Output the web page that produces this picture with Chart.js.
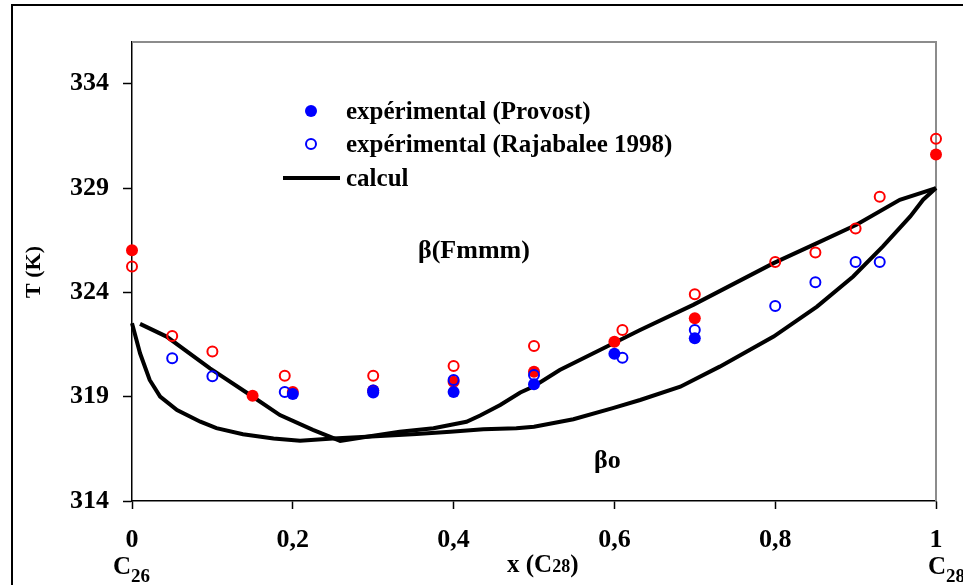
<!DOCTYPE html>
<html>
<head>
<meta charset="utf-8">
<script src="https://cdn.jsdelivr.net/npm/chart.js@4.4.1/dist/chart.umd.min.js"></script>
<style>
  html, body { margin: 0; padding: 0; background: #fff; }
  #wrap { width: 963px; height: 585px; position: relative; }
</style>
</head>
<body>
<div id="wrap"><canvas id="chartCanvas"></canvas></div>
<script>
// axes
const xTicks = [0, 0.2, 0.4, 0.6, 0.8, 1];
const xTickLabels = ["0", "0,2", "0,4", "0,6", "0,8", "1"];
const yTicks = [314, 319, 324, 329, 334];

// expérimental (Provost) - blue filled
const provostBlueX = [0.2, 0.3, 0.4, 0.5, 0.6, 0.7];
const provostBlueT = [319.13, 319.2, 319.22, 319.6, 321.06, 321.8];
// expérimental (Rajabalee 1998) - blue open
const rajaBlueX = [0.05, 0.1, 0.19, 0.3, 0.4, 0.5, 0.61, 0.7, 0.8, 0.85, 0.9, 0.93];
const rajaBlueT = [320.84, 319.98, 319.23, 319.3, 319.8, 320.04, 320.87, 322.2, 323.35, 324.49, 325.45, 325.45];
// red filled
const provostRedX = [0, 0.15, 0.2, 0.3, 0.4, 0.5, 0.6, 0.7, 1];
const provostRedT = [326.02, 319.04, 319.23, 319.3, 319.72, 320.2, 321.63, 322.76, 330.61];
// red open
const rajaRedX = [0, 0.05, 0.1, 0.19, 0.3, 0.4, 0.5, 0.61, 0.7, 0.8, 0.85, 0.9, 0.93, 1];
const rajaRedT = [325.24, 321.91, 321.16, 320.0, 320.0, 320.47, 321.43, 322.2, 323.91, 325.45, 325.91, 327.06, 328.58, 331.36];

// calcul - two branches of the loop
const calcAX = [0, 0.01, 0.022, 0.035, 0.056, 0.085, 0.105, 0.138, 0.176, 0.209, 0.25, 0.292, 0.354, 0.396, 0.437, 0.478, 0.5, 0.549, 0.598, 0.632, 0.682, 0.731, 0.798, 0.852, 0.897, 0.934, 0.968, 0.984, 1];
const calcAT = [322.52, 321.08, 319.8, 319.0, 318.36, 317.8, 317.49, 317.2, 317.0, 316.89, 317.0, 317.08, 317.21, 317.32, 317.44, 317.49, 317.56, 317.92, 318.45, 318.84, 319.48, 320.44, 321.88, 323.32, 324.76, 326.2, 327.64, 328.44, 329.0];
const calcBX = [0.01, 0.043, 0.097, 0.147, 0.184, 0.225, 0.259, 0.292, 0.333, 0.375, 0.416, 0.433, 0.458, 0.483, 0.5, 0.532, 0.582, 0.632, 0.698, 0.798, 0.852, 0.901, 0.955, 1];
const calcBT = [322.49, 321.88, 320.36, 319.08, 318.12, 317.41, 316.88, 317.08, 317.32, 317.49, 317.8, 318.1, 318.6, 319.2, 319.5, 320.28, 321.24, 322.2, 323.4, 325.4, 326.36, 327.24, 328.44, 329.0];

const toPoints = (xs, ys) => xs.map((x, i) => ({ x: x, y: ys[i] }));

const SERIF = "'Liberation Serif', 'Times New Roman', serif";
const BLUE = "#0000ff";
const RED = "#ff0000";

// frame, legend and free texts
const decorations = {
  id: "decorations",
  beforeDraw(chart) {
    const ctx = chart.ctx;
    ctx.save();
    ctx.fillStyle = "#fff";
    ctx.fillRect(0, 0, chart.width, chart.height);
    ctx.strokeStyle = "#000";
    ctx.lineWidth = 2;
    ctx.strokeRect(12, 5, chart.width + 20, chart.height + 20);
    ctx.restore();
  },
  beforeDatasetsDraw(chart) {
    const ctx = chart.ctx;
    const a = chart.chartArea;
    ctx.save();
    ctx.strokeStyle = "#8c8c8c";
    ctx.lineWidth = 2;
    ctx.beginPath();
    ctx.moveTo(a.left, a.top);
    ctx.lineTo(a.right, a.top);
    ctx.lineTo(a.right, a.bottom);
    ctx.stroke();
    ctx.restore();
  },
  afterDraw(chart) {
    const ctx = chart.ctx;
    const xs = chart.scales.x;
    ctx.save();
    ctx.fillStyle = "#000";
    ctx.textBaseline = "alphabetic";
    ctx.textAlign = "left";

    // legend
    ctx.beginPath();
    ctx.fillStyle = BLUE;
    ctx.arc(311, 111, 6, 0, Math.PI * 2);
    ctx.fill();
    ctx.beginPath();
    ctx.strokeStyle = BLUE;
    ctx.lineWidth = 2;
    ctx.arc(311, 144, 5, 0, Math.PI * 2);
    ctx.stroke();
    ctx.beginPath();
    ctx.strokeStyle = "#000";
    ctx.lineWidth = 4;
    ctx.moveTo(283, 178);
    ctx.lineTo(340, 178);
    ctx.stroke();

    ctx.fillStyle = "#000";
    ctx.font = "bold 25px " + SERIF;
    ctx.fillText("expérimental (Provost)", 346, 119);
    ctx.fillText("expérimental (Rajabalee 1998)", 346, 152);
    ctx.fillText("calcul", 346, 186);

    // phase labels
    ctx.font = "bold 26px " + SERIF;
    ctx.fillText("β(Fmmm)", 418, 258);
    ctx.fillText("βo", 594, 468);

    // compound labels under the x ticks
    const sub = (x, y, big, small) => {
      ctx.font = "bold 25px " + SERIF;
      ctx.fillText(big, x, y);
      const w = ctx.measureText(big).width;
      ctx.font = "bold 19px " + SERIF;
      ctx.fillText(small, x + w, y + 8);
    };
    sub(xs.getPixelForValue(0) - 19, 574, "C", "26");
    sub(xs.getPixelForValue(1) - 8, 574, "C", "28");

    // x title
    ctx.font = "bold 25px " + SERIF;
    let tx = 507;
    ctx.fillText("x (C", tx, 572);
    tx += ctx.measureText("x (C").width;
    ctx.font = "bold 18px " + SERIF;
    ctx.fillText("28", tx, 572);
    tx += ctx.measureText("28").width;
    ctx.font = "bold 25px " + SERIF;
    ctx.fillText(")", tx, 572);

    // y title
    ctx.translate(34, 272);
    ctx.rotate(-Math.PI / 2);
    ctx.textAlign = "center";
    ctx.textBaseline = "middle";
    ctx.font = "bold 22px " + SERIF;
    ctx.fillText("T (K)", 0, 0);
    ctx.restore();
  }
};

const ctx = document.getElementById("chartCanvas").getContext("2d");
const tickFont = { family: SERIF, size: 26, weight: "bold" };

new Chart(ctx, {
  type: "scatter",
  data: {
    datasets: [
      {
        label: "expérimental (Provost)",
        data: toPoints(provostBlueX, provostBlueT),
        pointStyle: "circle",
        pointRadius: 6,
        pointBackgroundColor: BLUE,
        pointBorderColor: BLUE,
        pointBorderWidth: 0,
        clip: false
      },
      {
        label: "expérimental (Rajabalee 1998)",
        data: toPoints(rajaBlueX, rajaBlueT),
        pointRadius: 5,
        pointBackgroundColor: "rgba(0,0,0,0)",
        pointBorderColor: BLUE,
        pointBorderWidth: 2,
        clip: false
      },
      {
        label: "Provost (rouge)",
        data: toPoints(provostRedX, provostRedT),
        pointRadius: 6,
        pointBackgroundColor: RED,
        pointBorderColor: RED,
        pointBorderWidth: 0,
        clip: false
      },
      {
        label: "Rajabalee (rouge)",
        data: toPoints(rajaRedX, rajaRedT),
        pointRadius: 5,
        pointBackgroundColor: "rgba(0,0,0,0)",
        pointBorderColor: RED,
        pointBorderWidth: 2,
        clip: false
      },
      {
        label: "calcul",
        data: toPoints(calcAX, calcAT),
        showLine: true,
        pointRadius: 0,
        borderColor: "#000",
        borderWidth: 4,
        tension: 0,
        clip: false
      },
      {
        label: "calcul 2",
        data: toPoints(calcBX, calcBT),
        showLine: true,
        pointRadius: 0,
        borderColor: "#000",
        borderWidth: 4,
        tension: 0,
        clip: false
      }
    ]
  },
  options: {
    responsive: true,
    maintainAspectRatio: false,
    animation: false,
    layout: { padding: { top: 42, right: 27, left: 0, bottom: 0 } },
    plugins: {
      legend: { display: false },
      tooltip: { enabled: false }
    },
    scales: {
      x: {
        type: "linear",
        min: 0,
        max: 1,
        afterBuildTicks: (s) => { s.ticks = xTicks.map((v) => ({ value: v })); },
        afterFit: (s) => { s.height = 84; },
        ticks: {
          callback: (v) => xTickLabels[xTicks.indexOf(v)],
          font: tickFont,
          color: "#000",
          padding: 16,
          maxRotation: 0,
          autoSkip: false
        },
        grid: { drawOnChartArea: false, tickLength: 8, tickColor: "#000", tickWidth: 1.5 },
        border: { color: "#000", width: 1.5 }
      },
      y: {
        type: "linear",
        min: 314,
        max: 336,
        afterBuildTicks: (s) => { s.ticks = yTicks.map((v) => ({ value: v })); },
        afterFit: (s) => { s.width = 132; },
        ticks: {
          font: tickFont,
          color: "#000",
          padding: 14
        },
        grid: { drawOnChartArea: false, tickLength: 9, tickColor: "#000", tickWidth: 1.5 },
        border: { color: "#000", width: 1.5 }
      }
    }
  },
  plugins: [decorations]
});
</script>
</body>
</html>
